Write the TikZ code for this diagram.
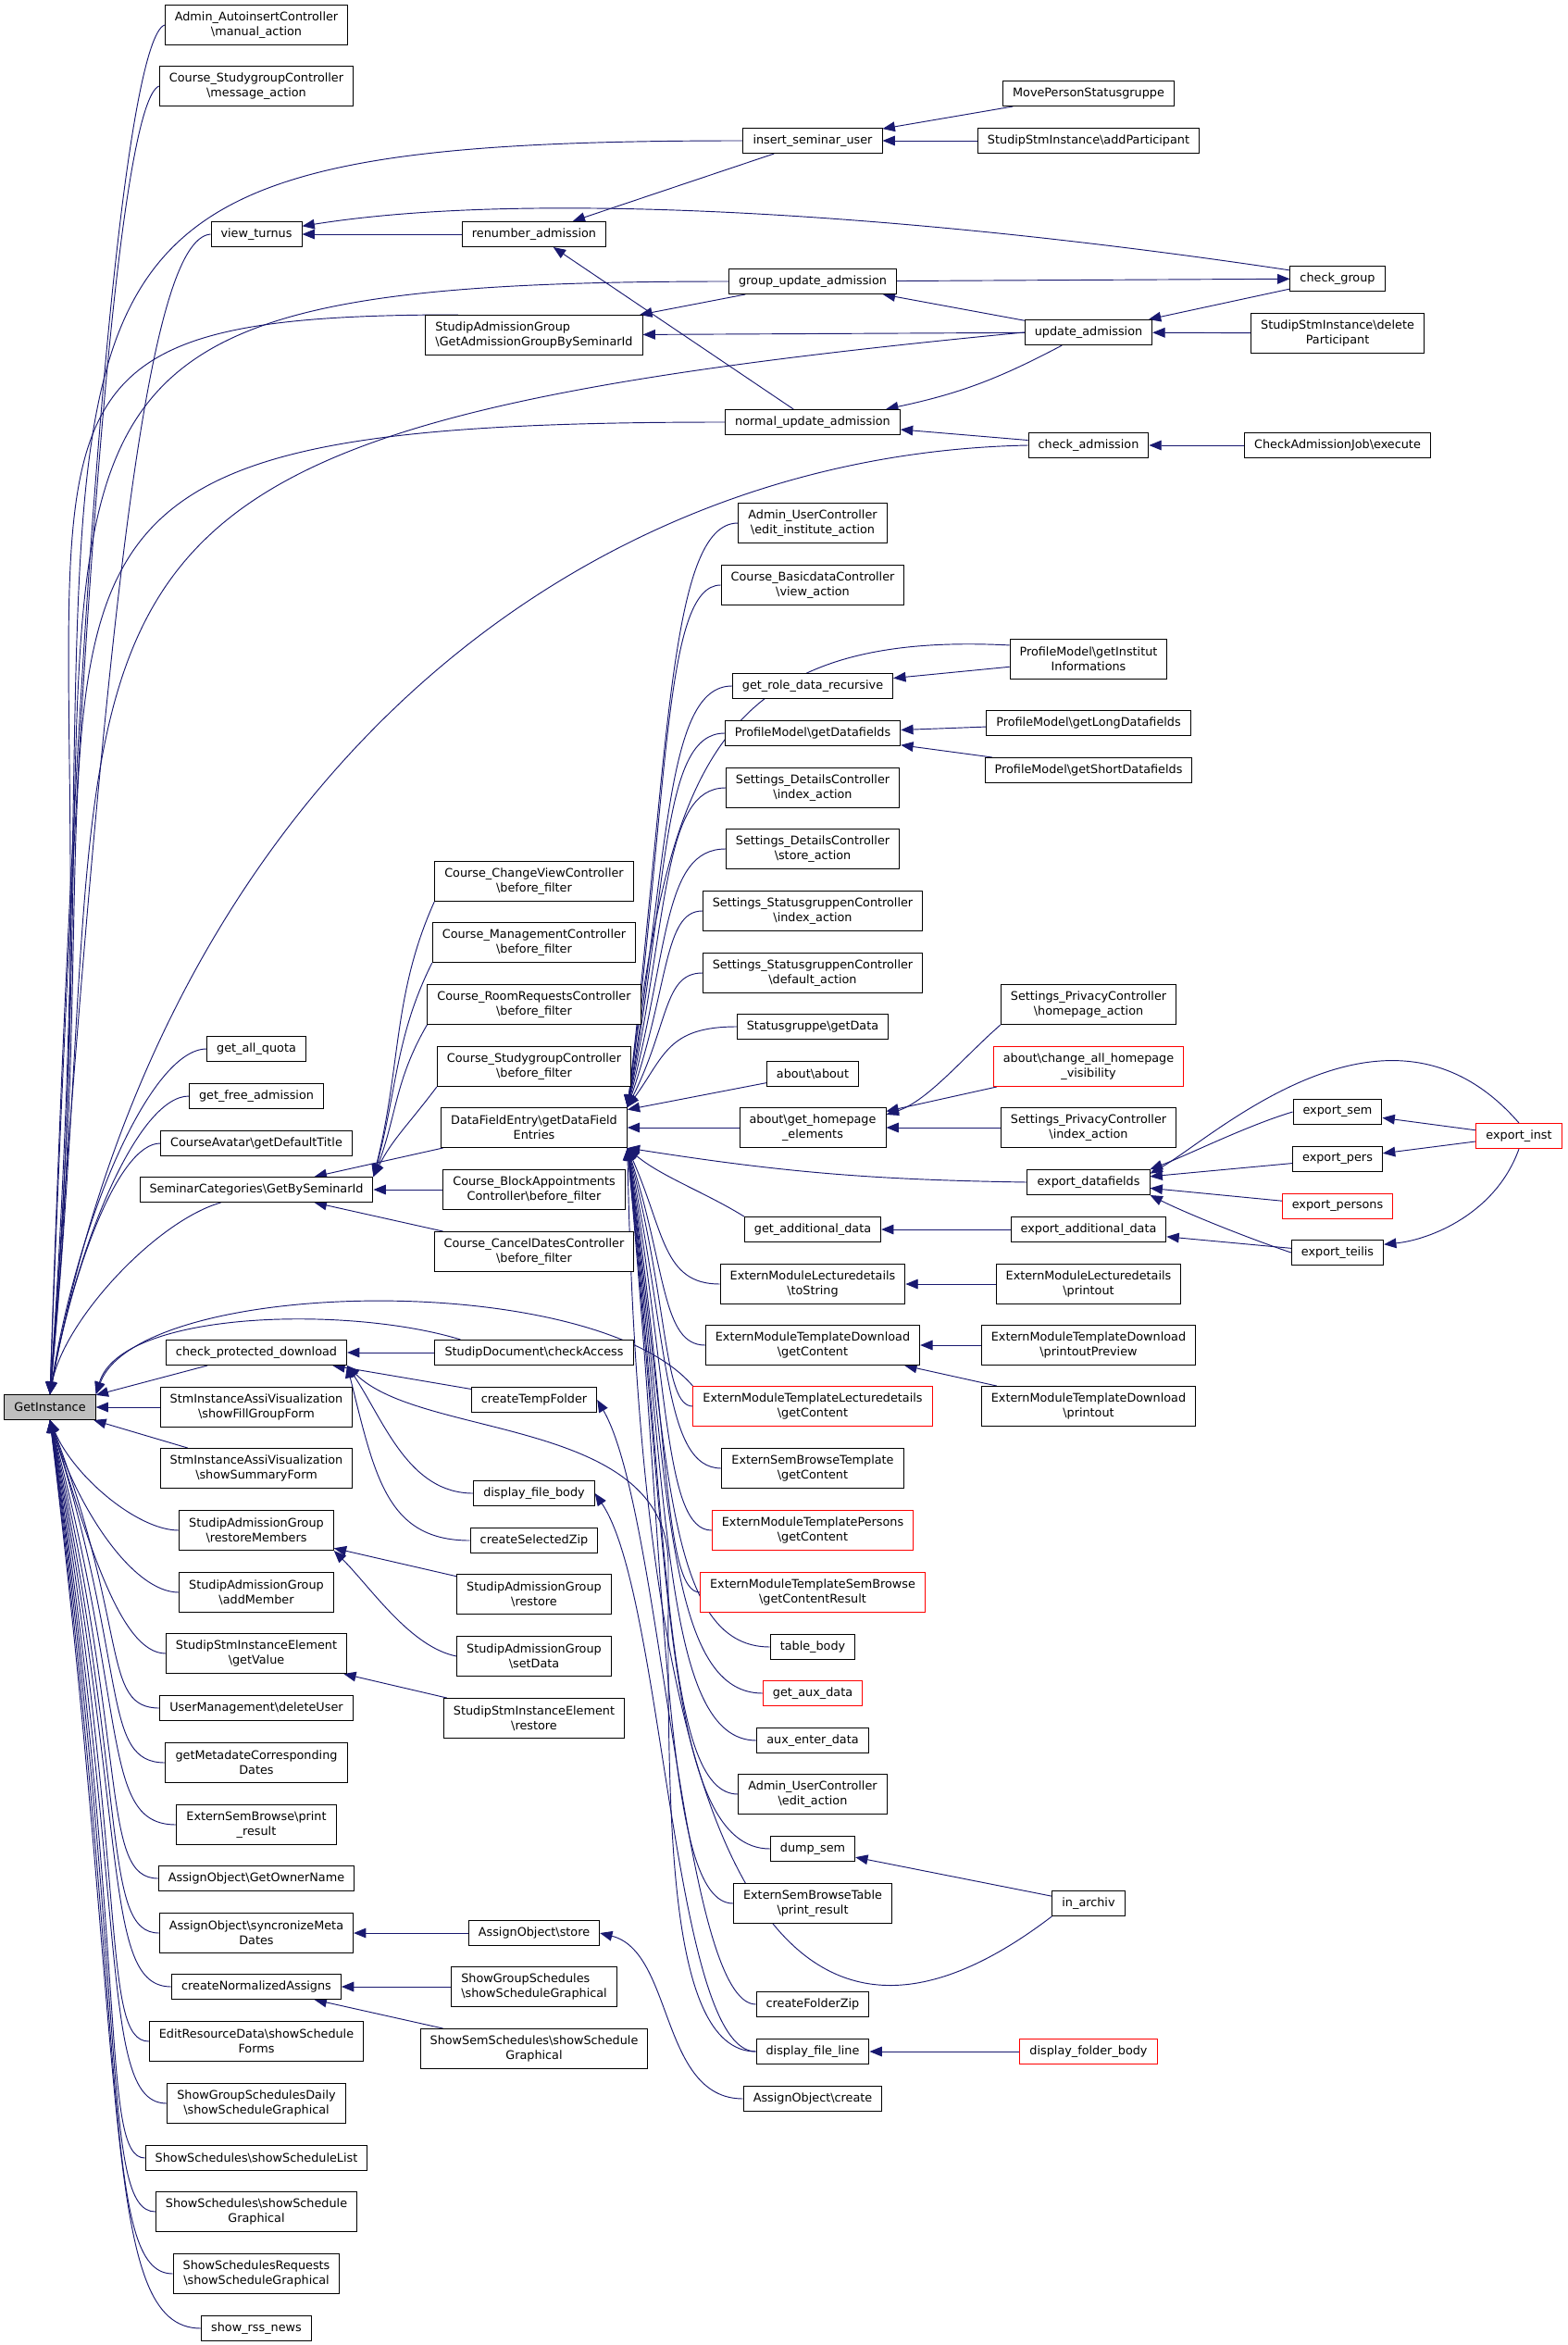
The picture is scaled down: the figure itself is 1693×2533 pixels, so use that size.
\documentclass[tikz,border=0pt]{standalone}
\usepackage{fontspec}
\setmainfont{DejaVu Sans}
\usetikzlibrary{arrows.meta}
\pgfdeclarelayer{bg}
\pgfsetlayers{bg,main}
\definecolor{callblue}{RGB}{25,25,112}
\newcommand{\bksl}{\textbackslash}
\newcommand{\fnfont}{\fontsize{9.6pt}{12pt}\selectfont}

\begin{document}
\begin{tikzpicture}[
 x=0.75pt,y=0.75pt,
 fn/.style={
  draw=black,
  line width=0.75pt,
  fill=white,
  font=\fnfont,
  align=center,
  inner xsep=7.9pt,
  inner ysep=1pt,
  minimum height=20.25pt
 },
 two/.style={minimum height=32.25pt},
 ext/.style={draw=red},
 hub/.style={fill=black!25},
 call/.style={draw=callblue,line width=0.7pt,-{Triangle[length=10pt,width=8pt]}}
]
 \useasboundingbox (0,0) rectangle (1693,-2533);

 % the called function
 \node[fn,hub] (gi) at (54,-1520) {GetInstance};

 % first column
 \node[fn,two] (autoins) at (277,-27) {Admin\_AutoinsertController\\\bksl manual\_action};
 \node[fn,two] (sgmsg) at (277,-93) {Course\_StudygroupController\\\bksl message\_action};
 \node[fn] (viewt) at (277,-253) {view\_turnus};
 \node[fn] (quota) at (277,-1133) {get\_all\_quota};
 \node[fn] (freeadm) at (277,-1184) {get\_free\_admission};
 \node[fn] (avatar) at (277,-1235) {CourseAvatar\bksl getDefaultTitle};
 \node[fn] (semcat) at (277,-1285) {SeminarCategories\bksl GetBySeminarId};
 \node[fn] (chkdl) at (277,-1461) {check\_protected\_download};
 \node[fn,two] (fillgrp) at (277,-1520) {StmInstanceAssiVisualization\\\bksl showFillGroupForm};
 \node[fn,two] (summary) at (277,-1586) {StmInstanceAssiVisualization\\\bksl showSummaryForm};
 \node[fn,two] (restmem) at (277,-1653) {StudipAdmissionGroup\\\bksl restoreMembers};
 \node[fn,two] (addmem) at (277,-1720) {StudipAdmissionGroup\\\bksl addMember};
 \node[fn,two] (getval) at (277,-1786) {StudipStmInstanceElement\\\bksl getValue};
 \node[fn] (deluser) at (277,-1845) {UserManagement\bksl deleteUser};
 \node[fn,two] (metadates) at (277,-1904) {getMetadateCorresponding\\Dates};
 \node[fn,two] (sbprint) at (277,-1971) {ExternSemBrowse\bksl print\\\_result};
 \node[fn] (owner) at (277,-2029) {AssignObject\bksl GetOwnerName};
 \node[fn,two] (syncmeta) at (277,-2088) {AssignObject\bksl syncronizeMeta\\Dates};
 \node[fn] (normass) at (277,-2146) {createNormalizedAssigns};
 \node[fn,two] (editres) at (277,-2205) {EditResourceData\bksl showSchedule\\Forms};
 \node[fn,two] (grpdaily) at (277,-2272) {ShowGroupSchedulesDaily\\\bksl showScheduleGraphical};
 \node[fn] (schedlist) at (277,-2331) {ShowSchedules\bksl showScheduleList};
 \node[fn,two] (schedgraph) at (277,-2389) {ShowSchedules\bksl showSchedule\\Graphical};
 \node[fn,two] (schedreq) at (277,-2456) {ShowSchedulesRequests\\\bksl showScheduleGraphical};
 \node[fn] (rss) at (277,-2515) {show\_rss\_news};

 % second column
 \node[fn] (renum) at (577,-253) {renumber\_admission};
 \node[fn,two,align=left] (getadm) at (577,-362) {StudipAdmissionGroup\\\bksl GetAdmissionGroupBySeminarId};
 \node[fn,two] (cvbf) at (577,-952) {Course\_ChangeViewController\\\bksl before\_filter};
 \node[fn,two] (mgbf) at (577,-1018) {Course\_ManagementController\\\bksl before\_filter};
 \node[fn,two] (rrbf) at (577,-1085) {Course\_RoomRequestsController\\\bksl before\_filter};
 \node[fn,two] (sgbf) at (577,-1152) {Course\_StudygroupController\\\bksl before\_filter};
 \node[fn,two] (dfe) at (577,-1218) {DataFieldEntry\bksl getDataField\\Entries};
 \node[fn,two] (babf) at (577,-1285) {Course\_BlockAppointments\\Controller\bksl before\_filter};
 \node[fn,two] (cdbf) at (577,-1352) {Course\_CancelDatesController\\\bksl before\_filter};
 \node[fn] (chkacc) at (577,-1461) {StudipDocument\bksl checkAccess};
 \node[fn] (tmpf) at (577,-1512) {createTempFolder};
 \node[fn] (dfbody) at (577,-1613) {display\_file\_body};
 \node[fn] (selzip) at (577,-1664) {createSelectedZip};
 \node[fn,two] (agrestore) at (577,-1722) {StudipAdmissionGroup\\\bksl restore};
 \node[fn,two] (agsetdata) at (577,-1789) {StudipAdmissionGroup\\\bksl setData};
 \node[fn,two] (elrestore) at (577,-1856) {StudipStmInstanceElement\\\bksl restore};
 \node[fn] (aostore) at (577,-2088) {AssignObject\bksl store};
 \node[fn,two,align=left] (grpsched) at (577,-2146) {ShowGroupSchedules\\\bksl showScheduleGraphical};
 \node[fn,two] (semsched) at (577,-2213) {ShowSemSchedules\bksl showSchedule\\Graphical};

 % third column
 \node[fn] (isu) at (878,-152) {insert\_seminar\_user};
 \node[fn] (gua) at (878,-304) {group\_update\_admission};
 \node[fn] (nua) at (878,-456) {normal\_update\_admission};
 \node[fn,two] (eia) at (878,-565) {Admin\_UserController\\\bksl edit\_institute\_action};
 \node[fn,two] (bdva) at (878,-632) {Course\_BasicdataController\\\bksl view\_action};
 \node[fn] (grdr) at (878,-741) {get\_role\_data\_recursive};
 \node[fn] (pmdf) at (878,-792) {ProfileModel\bksl getDatafields};
 \node[fn,two] (sdidx) at (878,-851) {Settings\_DetailsController\\\bksl index\_action};
 \node[fn,two] (sdstore) at (878,-917) {Settings\_DetailsController\\\bksl store\_action};
 \node[fn,two] (sgidx) at (878,-984) {Settings\_StatusgruppenController\\\bksl index\_action};
 \node[fn,two] (sgdef) at (878,-1051) {Settings\_StatusgruppenController\\\bksl default\_action};
 \node[fn] (sgdata) at (878,-1109) {Statusgruppe\bksl getData};
 \node[fn] (about) at (878,-1160) {about\bksl about};
 \node[fn,two] (ghe) at (878,-1218) {about\bksl get\_homepage\\\_elements};
 \node[fn] (gad) at (878,-1328) {get\_additional\_data};
 \node[fn,two] (ldts) at (878,-1387) {ExternModuleLecturedetails\\\bksl toString};
 \node[fn,two] (tdgc) at (878,-1453) {ExternModuleTemplateDownload\\\bksl getContent};
 \node[fn,two,ext] (tlgc) at (878,-1519) {ExternModuleTemplateLecturedetails\\\bksl getContent};
 \node[fn,two] (sbtgc) at (878,-1586) {ExternSemBrowseTemplate\\\bksl getContent};
 \node[fn,two,ext] (tpgc) at (878,-1653) {ExternModuleTemplatePersons\\\bksl getContent};
 \node[fn,two,ext] (tsbgc) at (878,-1720) {ExternModuleTemplateSemBrowse\\\bksl getContentResult};
 \node[fn] (tbody) at (878,-1779) {table\_body};
 \node[fn,ext] (auxd) at (878,-1829) {get\_aux\_data};
 \node[fn] (auxe) at (878,-1880) {aux\_enter\_data};
 \node[fn,two] (uedit) at (878,-1938) {Admin\_UserController\\\bksl edit\_action};
 \node[fn] (dump) at (878,-1997) {dump\_sem};
 \node[fn,two] (sbtab) at (878,-2056) {ExternSemBrowseTable\\\bksl print\_result};
 \node[fn] (fzip) at (878,-2165) {createFolderZip};
 \node[fn] (fline) at (878,-2216) {display\_file\_line};
 \node[fn] (aocreate) at (878,-2267) {AssignObject\bksl create};

 % fourth column
 \node[fn] (mps) at (1176,-101) {MovePersonStatusgruppe};
 \node[fn] (addp) at (1176,-152) {StudipStmInstance\bksl addParticipant};
 \node[fn] (upd) at (1176,-359) {update\_admission};
 \node[fn] (chkadm) at (1176,-481) {check\_admission};
 \node[fn,two] (pinst) at (1176,-712) {ProfileModel\bksl getInstitut\\Informations};
 \node[fn] (plong) at (1176,-781) {ProfileModel\bksl getLongDatafields};
 \node[fn] (pshort) at (1176,-832) {ProfileModel\bksl getShortDatafields};
 \node[fn,two] (phome) at (1176,-1085) {Settings\_PrivacyController\\\bksl homepage\_action};
 \node[fn,two,ext] (chvis) at (1176,-1152) {about\bksl change\_all\_homepage\\\_visibility};
 \node[fn,two] (pidx) at (1176,-1218) {Settings\_PrivacyController\\\bksl index\_action};
 \node[fn] (expdf) at (1176,-1277) {export\_datafields};
 \node[fn] (expad) at (1176,-1328) {export\_additional\_data};
 \node[fn,two] (ldprint) at (1176,-1387) {ExternModuleLecturedetails\\\bksl printout};
 \node[fn,two] (tdprev) at (1176,-1453) {ExternModuleTemplateDownload\\\bksl printoutPreview};
 \node[fn,two] (tdprint) at (1176,-1519) {ExternModuleTemplateDownload\\\bksl printout};
 \node[fn] (archiv) at (1176,-2056) {in\_archiv};
 \node[fn,ext] (fbody) at (1176,-2216) {display\_folder\_body};

 % fifth and sixth column
 \node[fn] (chkgrp) at (1445,-301) {check\_group};
 \node[fn,two] (delp) at (1445,-360) {StudipStmInstance\bksl delete\\Participant};
 \node[fn] (cajob) at (1445,-481) {CheckAdmissionJob\bksl execute};
 \node[fn] (esem) at (1445,-1201) {export\_sem};
 \node[fn] (epers) at (1445,-1252) {export\_pers};
 \node[fn,ext] (epersons) at (1445,-1303) {export\_persons};
 \node[fn] (eteilis) at (1445,-1353) {export\_teilis};
 \node[fn,ext] (einst) at (1641,-1227) {export\_inst};

 \begin{pgfonlayer}{bg}
 \fill[white] (0,0) rectangle (1693,-2533);
 % calls of GetInstance from above
 \draw[call] (autoins.west) .. controls +(-40,-15) and +(32,980) .. (gi.north);
 \draw[call] (sgmsg.west) .. controls +(-40,-15) and +(34,930) .. (gi.north);
 \draw[call] (viewt.west) .. controls +(-70,-5) and +(60,830) .. (gi.north);
 \draw[call] (isu.west) .. controls +(-902,0) and +(86,1206) .. (gi.north);
 \draw[call] (gua.west) .. controls +(-887,0) and +(86,1056) .. (gi.north);
 \draw[call] (getadm.165) .. controls +(-597,0) and +(86,1026) .. (gi.north);
 \draw[call] (upd.west) .. controls +(-1156,-111) and +(86,906) .. (gi.north);
 \draw[call] (nua.west) .. controls +(-883,0) and +(86,906) .. (gi.north);
 \draw[call] (chkadm.west) .. controls +(-500,-10) and +(120,650) .. (gi.north);
 \draw[call] (quota.west) .. controls +(-60,0) and +(30,190) .. (gi.north);
 \draw[call] (freeadm.west) .. controls +(-55,0) and +(28,160) .. (gi.north);
 \draw[call] (avatar.west) .. controls +(-45,0) and +(24,135) .. (gi.north);
 \draw[call] (semcat.-160) .. controls +(-70,-20) and +(15,80) .. (gi.north);
 \draw[call] (chkacc.170) .. controls +(-120,37) and +(27,91) .. (gi.north east);
 \draw[call] (tlgc.north west) .. controls +(-109,127) and +(47,126) .. (gi.north east);
 \draw[call] (chkdl) -- (gi);
 \draw[call] (fillgrp) -- (gi);
 \draw[call] (summary) -- (gi);
 % calls of GetInstance from below
 \draw[call] (restmem.west) .. controls +(-45,0) and +(25,-60) .. (gi.south);
 \draw[call] (addmem.west) .. controls +(-50,0) and +(30,-95) .. (gi.south);
 \draw[call] (getval.west) .. controls +(-50,0) and +(40,-125) .. (gi.south);
 \draw[call] (deluser.west) .. controls +(-63,0) and +(86,-228) .. (gi.south);
 \draw[call] (metadates.west) .. controls +(-70,0) and +(86,-271) .. (gi.south);
 \draw[call] (sbprint.west) .. controls +(-82,0) and +(86,-320) .. (gi.south);
 \draw[call] (owner.west) .. controls +(-63,0) and +(86,-362) .. (gi.south);
 \draw[call] (syncmeta.west) .. controls +(-63,0) and +(86,-405) .. (gi.south);
 \draw[call] (normass.west) .. controls +(-75,0) and +(86,-447) .. (gi.south);
 \draw[call] (editres.west) .. controls +(-53,0) and +(86,-490) .. (gi.south);
 \draw[call] (grpdaily.west) .. controls +(-73,0) and +(86,-540) .. (gi.south);
 \draw[call] (schedlist.west) .. controls +(-49,0) and +(86,-583) .. (gi.south);
 \draw[call] (schedgraph.west) .. controls +(-60,0) and +(86,-625) .. (gi.south);
 \draw[call] (schedreq.west) .. controls +(-78,0) and +(86,-674) .. (gi.south);
 \draw[call] (rss.west) .. controls +(-109,0) and +(86,-717) .. (gi.south);

 % admission calls
 \draw[call] (renum) -- (viewt);
 \draw[call] (chkgrp.170) .. controls +(-400,60) and +(250,40) .. (viewt.10);
 \draw[call] (isu) -- (renum);
 \draw[call] (nua) -- (renum);
 \draw[call] (mps) -- (isu);
 \draw[call] (addp) -- (isu);
 \draw[call] (gua) -- (getadm);
 \draw[call] (upd) -- (getadm);
 \draw[call] (gua) -- (chkgrp);
 \draw[call] (upd) -- (gua);
 \draw[call] (chkgrp) -- (upd);
 \draw[call] (delp) -- (upd);
 \draw[call] (upd) to[bend left=8] (nua);
 \draw[call] (chkadm) -- (nua);
 \draw[call] (cajob) -- (chkadm);

 % seminar categories
 \draw[call] (cvbf.south west) .. controls +(-45,-100) and +(30,120) .. (semcat.north east);
 \draw[call] (mgbf.south west) .. controls +(-40,-80) and +(25,90) .. (semcat.north east);
 \draw[call] (rrbf.south west) .. controls +(-35,-60) and +(25,65) .. (semcat.north east);
 \draw[call] (sgbf.south west) .. controls +(-30,-40) and +(20,40) .. (semcat.north east);
 \draw[call] (dfe) -- (semcat);
 \draw[call] (babf) -- (semcat);
 \draw[call] (cdbf) -- (semcat);

 % documents and folders
 \draw[call] (chkacc) -- (chkdl);
 \draw[call] (tmpf) -- (chkdl);
 \draw[call] (dfbody.west) .. controls +(-70,0) and +(40,-60) .. (chkdl.south east);
 \draw[call] (selzip.west) .. controls +(-90,0) and +(30,-120) .. (chkdl.south east);
 \draw[call] (fline.west) .. controls +(-100,0) and +(0,-250) .. (722,-1690)
  .. controls +(0,160) and +(80,-80) .. (chkdl.south east);
 \draw[call] (fzip.west) .. controls +(-80,0) and +(70,-120) .. (tmpf.east);
 \draw[call] (fline.west) .. controls +(-90,0) and +(75,-110) .. (dfbody.east);
 \draw[call] (fbody) -- (fline);

 % admission groups, elements, assign objects
 \draw[call] (agrestore) -- (restmem);
 \draw[call] (agsetdata.west) .. controls +(-50,10) and +(40,-40) .. (restmem.south east);
 \draw[call] (elrestore) -- (getval);
 \draw[call] (aostore) -- (syncmeta);
 \draw[call] (aocreate.west) .. controls +(-90,0) and +(80,-20) .. (aostore.east);
 \draw[call] (grpsched) -- (normass);
 \draw[call] (semsched) -- (normass);

 % datafield entries from above
 \draw[call] (eia.west) .. controls +(-75,0) and +(45,380) .. (dfe.north east);
 \draw[call] (bdva.west) .. controls +(-62,0) and +(45,340) .. (dfe.north east);
 \draw[call] (pinst.170) .. controls +(-331,17) and +(45,350) .. (dfe.north east);
 \draw[call] (grdr.west) .. controls +(-72,0) and +(45,275) .. (dfe.north east);
 \draw[call] (pmdf.west) .. controls +(-68,0) and +(45,245) .. (dfe.north east);
 \draw[call] (sdidx.west) .. controls +(-68,0) and +(45,210) .. (dfe.north east);
 \draw[call] (sdstore.west) .. controls +(-68,0) and +(45,170) .. (dfe.north east);
 \draw[call] (sgidx.west) .. controls +(-42,0) and +(45,130) .. (dfe.north east);
 \draw[call] (sgdef.west) .. controls +(-42,0) and +(45,90) .. (dfe.north east);
 \draw[call] (sgdata.west) .. controls +(-75,0) and +(40,55) .. (dfe.north east);
 \draw[call] (about) -- (dfe);
 \draw[call] (ghe) -- (dfe);
 % datafield entries from below
 \draw[call] (expdf.west) to[bend left=4] (dfe.south east);
 \draw[call] (gad.north west) .. controls +(-40,25) and +(35,-30) .. (dfe.south east);
 \draw[call] (ldts.west) .. controls +(-62,0) and +(40,-90) .. (dfe.south east);
 \draw[call] (tdgc.west) .. controls +(-47,0) and +(42,-130) .. (dfe.south east);
 \draw[call] (tlgc.west) .. controls +(-32,0) and +(45,-170) .. (dfe.south east);
 \draw[call] (sbtgc.west) .. controls +(-63,0) and +(45,-210) .. (dfe.south east);
 \draw[call] (tpgc.west) .. controls +(-52,0) and +(45,-250) .. (dfe.south east);
 \draw[call] (tsbgc.west) .. controls +(-40,0) and +(45,-290) .. (dfe.south east);
 \draw[call] (tbody.west) .. controls +(-115,0) and +(45,-325) .. (dfe.south east);
 \draw[call] (auxd.west) .. controls +(-106,0) and +(45,-355) .. (dfe.south east);
 \draw[call] (auxe.west) .. controls +(-100,0) and +(45,-385) .. (dfe.south east);
 \draw[call] (uedit.west) .. controls +(-80,0) and +(45,-420) .. (dfe.south east);
 \draw[call] (dump.west) .. controls +(-113,0) and +(45,-455) .. (dfe.south east);
 \draw[call] (sbtab.west) .. controls +(-76,0) and +(45,-490) .. (dfe.south east);
 \draw[call] (archiv.south west) .. controls +(-236,-180) and +(18,-910) .. (dfe.south east);
 \draw[call] (archiv) -- (dump);

 % profile, homepage and export calls
 \draw[call] (pinst) -- (grdr);
 \draw[call] (plong) -- (pmdf);
 \draw[call] (pshort) -- (pmdf);
 \draw[call] (phome.south west) .. controls +(-40,-35) and +(45,15) .. (ghe.10);
 \draw[call] (chvis) -- (ghe);
 \draw[call] (pidx) -- (ghe);
 \draw[call] (esem.west) .. controls +(-50,-15) and +(40,15) .. (expdf.north east);
 \draw[call] (einst.north) .. controls +(-141,163) and +(68,38) .. (expdf.8);
 \draw[call] (epers) -- (expdf);
 \draw[call] (epersons) -- (expdf);
 \draw[call] (eteilis.west) .. controls +(-45,15) and +(40,-20) .. (expdf.south east);
 \draw[call] (einst) -- (esem);
 \draw[call] (einst) -- (epers);
 \draw[call] (einst.south) .. controls +(-25,-70) and +(50,5) .. (eteilis.10);
 \draw[call] (eteilis) -- (expad);
 \draw[call] (expad) -- (gad);
 \draw[call] (ldprint) -- (ldts);
 \draw[call] (tdprev) -- (tdgc);
 \draw[call] (tdprint) -- (tdgc);
 \end{pgfonlayer}
\end{tikzpicture}
\end{document}
